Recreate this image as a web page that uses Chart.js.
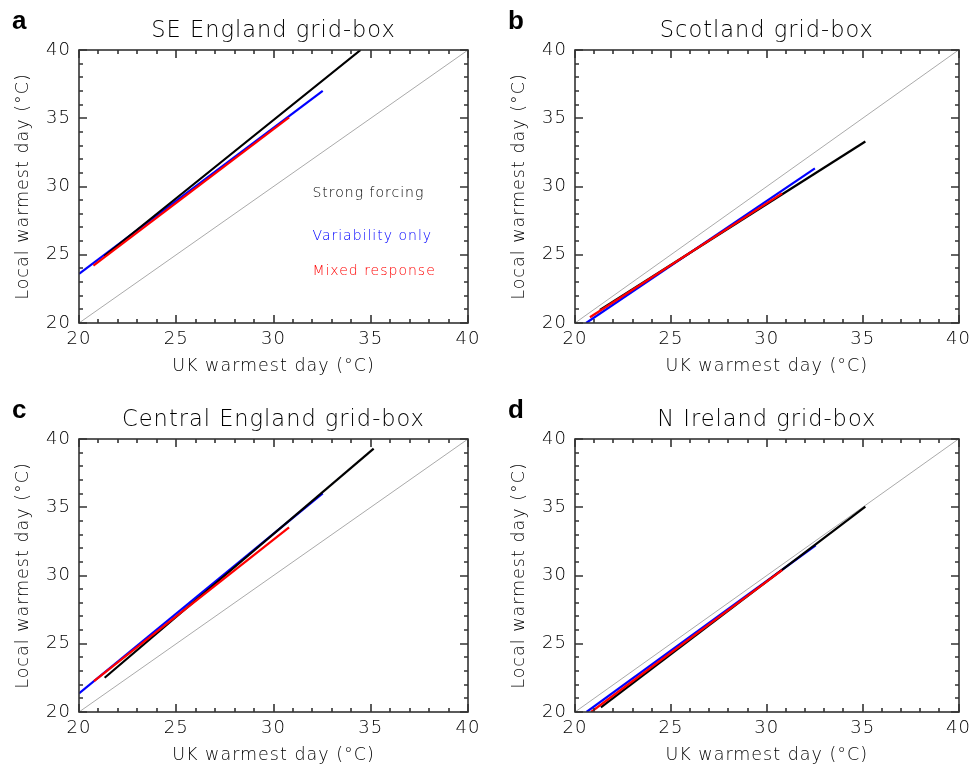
<!DOCTYPE html>
<html lang="en">
<head>
<meta charset="UTF-8">
<title>Local vs UK warmest day</title>
<style>
    body {
        margin: 0;
        background: #fff;
        overflow: hidden;
    }

    #page {
        position: relative;
        width: 976px;
        height: 764px;
    }

    .panel {
        position: absolute;
        width: 488px;
        height: 385px;
    }
</style>
</head>
<body>
<div id="page">
    <div class="panel" style="left:0;top:0"><canvas id="chartA" width="488" height="385"></canvas></div>
    <div class="panel" style="left:488px;top:0"><canvas id="chartB" width="488" height="385"></canvas></div>
    <div class="panel" style="left:0;top:389px"><canvas id="chartC" width="488" height="385"></canvas></div>
    <div class="panel" style="left:488px;top:389px"><canvas id="chartD" width="488" height="385"></canvas></div>
</div>

<script src="https://cdn.jsdelivr.net/npm/chart.js@4.4.3/dist/chart.umd.min.js"></script>
<script>
    // axis ticks (both axes run 20..40 °C)
    const MAJOR_TICKS = [20, 25, 30, 35, 40];
    const MINOR_TICKS = [21, 22, 23, 24, 26, 27, 28, 29, 31, 32, 33, 34, 36, 37, 38, 39];
    const ONE_TO_ONE = [20, 40];

    // a: SE England
    const seBlackX = [21.3, 23.0, 34.48];
    const seBlackY = [24.9, 26.85, 40.0];
    const seBlueX = [20.0, 32.53];
    const seBlueY = [23.6, 37.0];
    const seRedX = [20.74, 30.8];
    const seRedY = [24.2, 35.07];

    // b: Scotland
    const scBlackX = [21.3, 35.14];
    const scBlackY = [20.95, 33.3];
    const scBlueX = [20.58, 32.51];
    const scBlueY = [20.0, 31.33];
    const scRedX = [20.78, 30.8];
    const scRedY = [20.42, 29.5];

    // c: Central England
    const ceBlackX = [21.32, 35.15];
    const ceBlackY = [22.51, 39.3];
    const ceBlueX = [20.0, 32.53];
    const ceBlueY = [21.37, 36.02];
    const ceRedX = [20.77, 30.8];
    const ceRedY = [22.27, 33.53];

    // d: N Ireland
    const niBlackX = [21.35, 35.14];
    const niBlackY = [20.34, 35.04];
    const niBlueX = [20.6, 32.55];
    const niBlueY = [20.0, 32.2];
    const niRedX = [20.84, 30.8];
    const niRedY = [20.0, 30.4];

    const LEGEND_LABELS = ['Strong forcing', 'Variability only', 'Mixed response'];
    const LEGEND_X = 32.0;
    const LEGEND_Y = [29.5, 26.35, 23.8];

    const FONT = "'DejaVu Sans', sans-serif";
    const TEXT = '#000';
    const AXIS = '#333';

    Chart.defaults.font.family = FONT;
    Chart.defaults.font.weight = 200;
    Chart.defaults.color = TEXT;

    function pts(xs, ys) {
        return xs.map((x, i) => ({ x: x, y: ys[i] }));
    }

    // box round the plot, inward ticks on all four sides, legend text, panel letter
    const framePlugin = {
        id: 'frame',
        beforeDraw(chart) {
            chart.ctx.letterSpacing = '1px';
        },
        afterDraw(chart, args, opts) {
            const ctx = chart.ctx;
            const area = chart.chartArea;
            const sx = chart.scales.x;
            const sy = chart.scales.y;
            const l = Math.round(area.left), r = Math.round(area.right);
            const t = Math.round(area.top), b = Math.round(area.bottom);

            ctx.save();
            ctx.strokeStyle = AXIS;
            ctx.lineWidth = 1.6;
            ctx.lineCap = 'butt';
            ctx.strokeRect(l, t, r - l, b - t);

            ctx.beginPath();
            MAJOR_TICKS.map(v => [v, 8]).concat(MINOR_TICKS.map(v => [v, 4])).forEach(([v, len]) => {
                const px = Math.round(sx.getPixelForValue(v));
                const py = Math.round(sy.getPixelForValue(v));
                ctx.moveTo(px, b);
                ctx.lineTo(px, b - len);
                ctx.moveTo(px, t);
                ctx.lineTo(px, t + len);
                ctx.moveTo(l, py);
                ctx.lineTo(l + len, py);
                ctx.moveTo(r, py);
                ctx.lineTo(r - len, py);
            });
            ctx.stroke();

            if (opts.legend) {
                ctx.font = '200 14px ' + FONT;
                ctx.textAlign = 'left';
                ctx.textBaseline = 'middle';
                LEGEND_LABELS.forEach((label, i) => {
                    const ds = chart.data.datasets.find(d => d.label === label);
                    ctx.fillStyle = ds.borderColor;
                    ctx.fillText(label, sx.getPixelForValue(LEGEND_X), sy.getPixelForValue(LEGEND_Y[i]));
                });
            }

            ctx.letterSpacing = '0px';
            ctx.fillStyle = '#000';
            ctx.font = 'bold 26px "Liberation Sans", Arial, sans-serif';
            ctx.textAlign = 'left';
            ctx.textBaseline = 'alphabetic';
            ctx.fillText(opts.letter, l - 67, 29);
            ctx.restore();
        }
    };

    function makeChart(id, letter, title, black, blue, red, padLeft, padRight, legend) {
        const line = (label, color, data, width) => ({
            label: label,
            data: data,
            showLine: true,
            borderColor: color,
            borderWidth: width,
            pointRadius: 0,
            fill: false
        });

        return new Chart(document.getElementById(id), {
            type: 'scatter',
            data: {
                datasets: [
                    line('Mixed response', '#ff0000', red, 2.2),
                    line('Strong forcing', '#000000', black, 2.2),
                    line('Variability only', '#0000ff', blue, 2.2),
                    line('1:1', '#aaaaaa', pts(ONE_TO_ONE, ONE_TO_ONE), 1)
                ]
            },
            options: {
                responsive: false,
                animation: false,
                layout: { padding: { left: padLeft, right: padRight, top: 0, bottom: 0 } },
                plugins: {
                    legend: { display: false },
                    tooltip: { enabled: false },
                    title: {
                        display: true,
                        text: title,
                        fullSize: false,
                        color: TEXT,
                        font: { size: 22.5, weight: 200, lineHeight: 1.2 },
                        padding: { top: 18, bottom: 5 }
                    },
                    frame: { letter: letter, legend: legend }
                },
                scales: {
                    x: {
                        type: 'linear',
                        min: 20,
                        max: 40,
                        afterBuildTicks: s => { s.ticks = MAJOR_TICKS.map(v => ({ value: v })); },
                        afterFit: s => { s.height = 62; },
                        grid: { display: false, drawTicks: false },
                        border: { display: false },
                        ticks: { padding: 6, autoSkip: false, maxRotation: 0, font: { size: 18 } },
                        title: {
                            display: true,
                            text: 'UK warmest day (°C)',
                            font: { size: 17.5 },
                            padding: { top: 0, bottom: 8.5 }
                        }
                    },
                    y: {
                        type: 'linear',
                        min: 20,
                        max: 40,
                        afterBuildTicks: s => { s.ticks = MAJOR_TICKS.map(v => ({ value: v })); },
                        afterFit: s => { s.width = 79; },
                        grid: { display: false, drawTicks: false },
                        border: { display: false },
                        ticks: { padding: 8, autoSkip: false, font: { size: 18 } },
                        title: {
                            display: true,
                            text: 'Local warmest day (°C)',
                            font: { size: 17.5 },
                            padding: { top: 13, bottom: 0 }
                        }
                    }
                }
            },
            plugins: [framePlugin]
        });
    }

    makeChart('chartA', 'a', 'SE England grid-box',
        pts(seBlackX, seBlackY), pts(seBlueX, seBlueY), pts(seRedX, seRedY), 0, 20, true);
    makeChart('chartB', 'b', 'Scotland grid-box',
        pts(scBlackX, scBlackY), pts(scBlueX, scBlueY), pts(scRedX, scRedY), 8, 11, false);
    makeChart('chartC', 'c', 'Central England grid-box',
        pts(ceBlackX, ceBlackY), pts(ceBlueX, ceBlueY), pts(ceRedX, ceRedY), 0, 20, false);
    makeChart('chartD', 'd', 'N Ireland grid-box',
        pts(niBlackX, niBlackY), pts(niBlueX, niBlueY), pts(niRedX, niRedY), 8, 11, false);
</script>
</body>
</html>
